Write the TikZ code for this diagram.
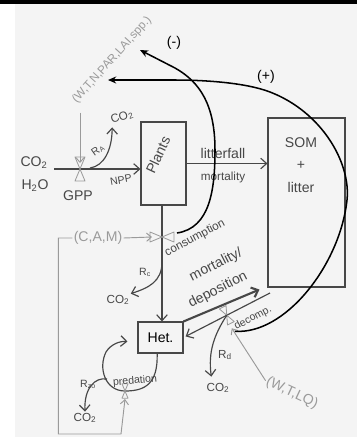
\documentclass[tikz,border=0pt]{standalone}
\usepackage{fontspec}
\setmainfont{Liberation Sans}
\usepackage{tikz}
\usetikzlibrary{arrows.meta, calc}
\definecolor{pencil}{HTML}{474747}
\definecolor{softgray}{HTML}{9A9A9A}
\definecolor{paper}{HTML}{F4F4F4}
\newcommand{\cotwo}{CO\textsubscript{2}}
\tikzstyle{stock} = [rectangle, draw=pencil, line width=0.9pt, inner sep=0pt]
\tikzstyle{flow} = [pencil, line width=1pt, -{Straight Barb[length=5pt,width=9pt]}]
\tikzstyle{info} = [softgray, line width=0.8pt, -{Straight Barb[length=4pt,width=7pt]}]
\tikzstyle{fb} = [black, line width=1.3pt, -{Stealth[length=7pt,width=6pt]}]
\tikzstyle{lbl} = [text=pencil, inner sep=1pt]
\tikzstyle{infolbl} = [text=softgray, inner sep=1pt]
\tikzset{valve/.pic={\draw[softgray, line width=0.7pt, line join=round] (0,0) -- (-5,-12) -- (5,-12) -- cycle (0,0) -- (-5,12) -- (5,12) -- cycle;}}

\begin{document}
\begin{tikzpicture}[x=0.03cm, y=-0.03cm]
    \fill[paper] (15,3) rectangle (357,437);
    \fill[black] (0,0) rectangle (357,3.5);
    \useasboundingbox (0,0) rectangle (357,437);

    % stocks
    \node[stock, minimum width=1.35cm, minimum height=2.49cm] (plants) at (163.5,163.5) {};
    \node[lbl, rotate=65, font=\large] (plantstxt) at (158,155) {Plants};
    \node[stock, minimum width=2.31cm, minimum height=5.07cm] (som) at (306.5,202.5) {};
    \node[lbl, align=center, font=\large] (somtxt) at (301,165) {SOM\\[5pt]+\\[5pt]litter};
    \node[stock, minimum width=1.35cm, minimum height=0.93cm, font=\large] (het) at (160.5,337.5) {Het.};

    % GPP / NPP
    \coordinate (gppv) at (80,169);
    \coordinate (inflow) at (54,169);
    \node[lbl, font=\large] (co2in) at (34,163) {\cotwo};
    \node[lbl, font=\large] (h2o) at (35,186) {H\textsubscript{2}O};
    \draw[flow] (inflow) -- (plants.west |- gppv);
    \pic at (gppv) {valve};
    \node[lbl, font=\large] (gpp) at (78,196) {GPP};
    \node[lbl, font=\small, rotate=10] (npp) at (121,180) {NPP};
    \node[lbl, rotate=20] (co2ra) at (122,117) {\cotwo};
    \coordinate (ra0) at (90,168);
    \draw[flow] (ra0) .. controls (104,166) and (112,150) .. (co2ra.south west);
    \node[lbl, rotate=35, font=\small] (ra) at (98,150) {R\textsubscript{A}};
    \node[infolbl, rotate=48] (envp) at (112,60) {(W,T,N,PAR,LAI,spp.)};
    \draw[info, shorten <=0.3cm] (envp.west -| gppv) -- ($(gppv)+(0,-6)$);

    % litterfall
    \draw[flow] (plants.east) -- (som.west |- plants.east);
    \node[lbl, font=\large] (litfall) at (223,153) {litterfall};
    \node[lbl] (mort1) at (223,177) {mortality};

    % consumption
    \coordinate (consv) at (162,237);
    \draw[flow] (plants.south -| consv) -- (het.north -| consv);
    \pic[rotate=90] at (consv) {valve};
    \node[infolbl, font=\large] (cam) at (98,238) {(C,A,M)};
    \draw[info] (cam.east) -- ($(consv)+(-10,0)$);
    \node[lbl, rotate=28] (cons) at (195,238) {consumption};
    \coordinate (rc0) at (162,262);
    \node[lbl] (co2c) at (118,300) {\cotwo};
    \draw[flow] (rc0) .. controls (162,282) and (148,288) .. (co2c.north east);
    \node[lbl, font=\small] (rc) at (145,272) {R\textsubscript{c}};

    % mortality / decomposition
    \draw[flow, line width=1.8pt] (het.north east) -- ($(som.south west)+(-8,2)$);
    \node[lbl, rotate=27, font=\large] (mort2) at (216,265) {mortality/};
    \node[lbl, rotate=27, font=\large] (dep) at (218,290) {deposition};
    \coordinate (dec0) at (270,293);
    \coordinate (decv) at ($(dec0)!0.5!(het.east)$);
    \draw[flow, shorten >=2pt] (dec0) -- (het.east);
    \pic[rotate=27, scale=0.75] at (decv) {valve};
    \node[lbl, rotate=28, font=\small] (decomp) at (253,318) {decomp.};
    \node[lbl] (co2d) at (218,388) {\cotwo};
    \draw[flow] (decv) .. controls (214,335) and (208,352) .. ([xshift=-0.2cm, yshift=0.15cm]co2d.north);
    \node[lbl] (rd) at (225,355) {R\textsubscript{d}};
    \node[infolbl, rotate=-25, font=\large] (wtlq) at (292,393) {(W,T,LQ)};
    \draw[info] (wtlq.west) -- ($(decv)+(5,13)$);

    % predation
    \coordinate (predv) at (125,391);
    \draw[flow] ([xshift=-0.1cm]het.south) .. controls (158,384) and (145,391) .. (predv) .. controls (105,391) and (98,368) .. (106,352) .. controls (111,344) and (120,341) .. ($(het.west)+(-10,4)$);
    \pic[scale=0.6] at (predv) {valve};
    \node[lbl, rotate=5, font=\small] (pred) at (135,381) {predation};
    \coordinate (cbot) at (121,434);
    \draw[info] (cam.west) -- ++(-14,0) |- (cbot) -- ($(predv)+(0,8)$);
    \coordinate (rzo0) at (107,379);
    \node[lbl] (co2z) at (85,418) {\cotwo};
    \draw[flow] (rzo0) .. controls (95,377) and (84,388) .. (co2z.north);
    \node[lbl, font=\small] (rzo) at (88,384) {R\textsubscript{zo}};

    % feedbacks
    \coordinate (tipm) at (140,50);
    \coordinate (tipp) at (108,80);
    \draw[fb] ($(consv)+(15,-4)$) .. controls (210,228) and (215,190) .. (215,150) .. controls (215,105) and (200,82) .. (175,68) -- (tipm);
    \draw[fb] ($(decv)+(8,16)$) .. controls (285,335) and (340,265) .. (347,200) .. controls (351,163) and (322,112) .. (270,92) .. controls (244,82) and (200,80) .. (175,80) -- (tipp);
    \node[font=\large] (minus) at (174,43) {(-)};
    \node[font=\large] (plus) at (266,77) {(+)};
\end{tikzpicture}
\end{document}
